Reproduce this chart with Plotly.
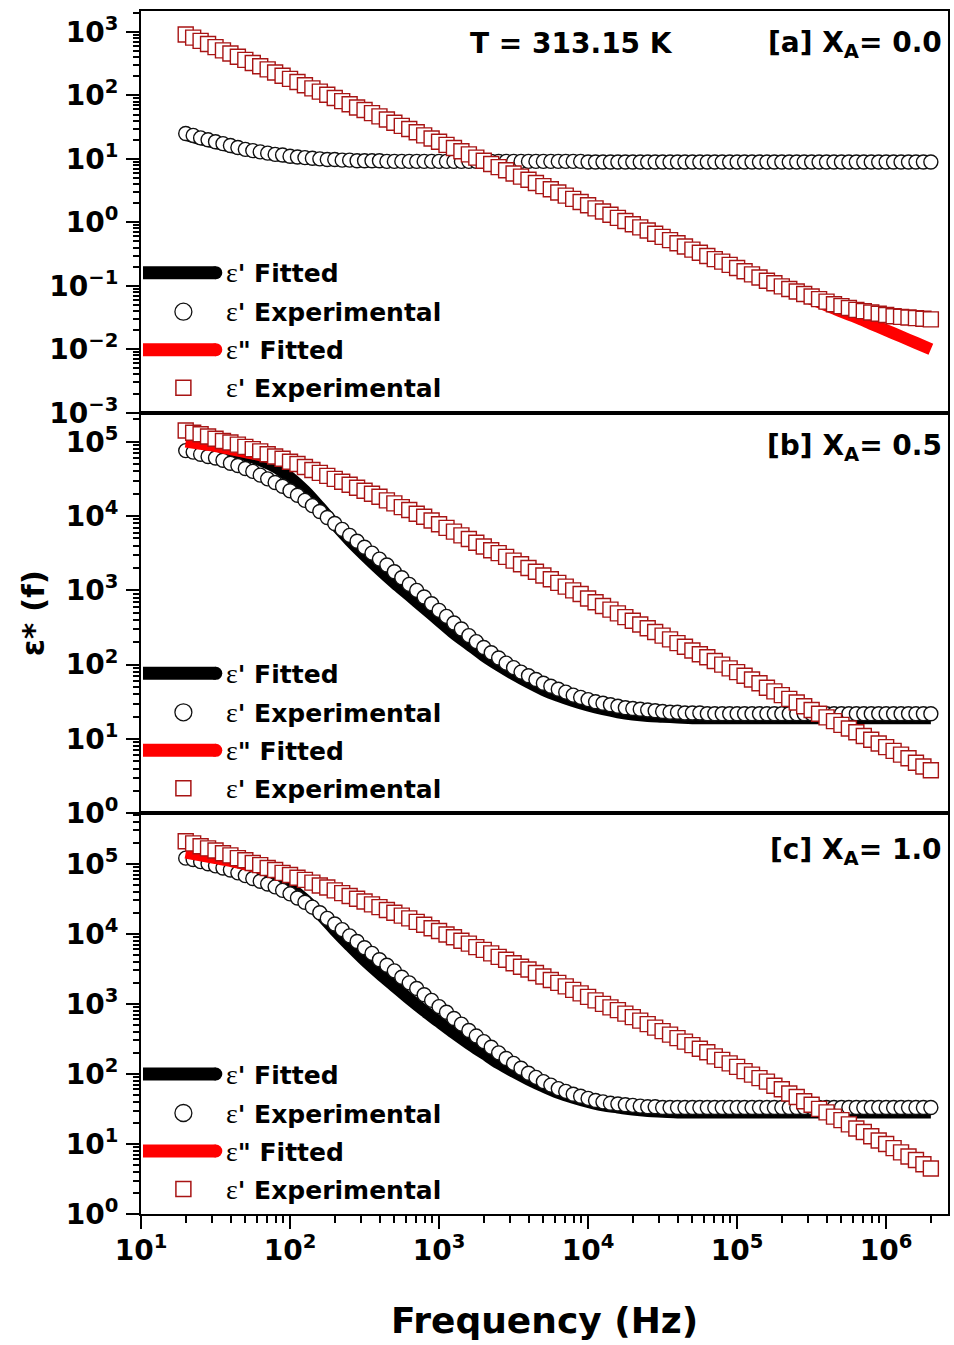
import numpy as np
import plotly.graph_objects as go

# ---------------------------------------------------------------
# Frequency grids (log10 of frequency in Hz)
# ---------------------------------------------------------------
log_f_exp = [
    1.30, 1.35, 1.40, 1.45, 1.50, 1.55, 1.60, 1.65, 1.70, 1.75,
    1.80, 1.85, 1.90, 1.95, 2.00, 2.05, 2.10, 2.15, 2.20, 2.25,
    2.30, 2.35, 2.40, 2.45, 2.50, 2.55, 2.60, 2.65, 2.70, 2.75,
    2.80, 2.85, 2.90, 2.95, 3.00, 3.05, 3.10, 3.15, 3.20, 3.25,
    3.30, 3.35, 3.40, 3.45, 3.50, 3.55, 3.60, 3.65, 3.70, 3.75,
    3.80, 3.85, 3.90, 3.95, 4.00, 4.05, 4.10, 4.15, 4.20, 4.25,
    4.30, 4.35, 4.40, 4.45, 4.50, 4.55, 4.60, 4.65, 4.70, 4.75,
    4.80, 4.85, 4.90, 4.95, 5.00, 5.05, 5.10, 5.15, 5.20, 5.25,
    5.30, 5.35, 5.40, 5.45, 5.50, 5.55, 5.60, 5.65, 5.70, 5.75,
    5.80, 5.85, 5.90, 5.95, 6.00, 6.05, 6.10, 6.15, 6.20, 6.25,
    6.30,
]
log_f_fit = [
    1.3, 1.4, 1.5, 1.6, 1.7, 1.8, 1.9, 2.0, 2.1, 2.2,
    2.3, 2.4, 2.5, 2.6, 2.7, 2.8, 2.9, 3.0, 3.1, 3.2,
    3.3, 3.4, 3.5, 3.6, 3.7, 3.8, 3.9, 4.0, 4.1, 4.2,
    4.3, 4.4, 4.5, 4.6, 4.7, 4.8, 4.9, 5.0, 5.1, 5.2,
    5.3, 5.4, 5.5, 5.6, 5.7, 5.8, 5.9, 6.0, 6.1, 6.2,
    6.3,
]

# ---------------------------------------------------------------
# Panel [a]  X_A = 0.0   (values stored as log10 of epsilon)
# ---------------------------------------------------------------
log_eps1_exp_a = [
    1.40, 1.37, 1.33, 1.30, 1.27, 1.24, 1.21, 1.18, 1.15, 1.13,
    1.11, 1.09, 1.07, 1.06, 1.04, 1.03, 1.02, 1.01, 1.00, 0.99,
    0.99, 0.98, 0.98, 0.97, 0.97, 0.97, 0.97, 0.96, 0.96, 0.96,
    0.96, 0.96, 0.96, 0.96, 0.96, 0.96, 0.96, 0.96, 0.96, 0.96,
    0.96, 0.96, 0.96, 0.96, 0.96, 0.96, 0.96, 0.96, 0.96, 0.96,
    0.96, 0.96, 0.96, 0.96, 0.95, 0.95, 0.95, 0.95, 0.95, 0.95,
    0.95, 0.95, 0.95, 0.95, 0.95, 0.95, 0.95, 0.95, 0.95, 0.95,
    0.95, 0.95, 0.95, 0.95, 0.95, 0.95, 0.95, 0.95, 0.95, 0.95,
    0.95, 0.95, 0.95, 0.95, 0.95, 0.95, 0.95, 0.95, 0.95, 0.95,
    0.95, 0.95, 0.95, 0.95, 0.95, 0.95, 0.95, 0.95, 0.95, 0.95,
    0.95,
]
log_eps1_fit_a = [
    1.38, 1.31, 1.25, 1.19, 1.14, 1.10, 1.06, 1.03, 1.01, 0.99,
    0.98, 0.97, 0.96, 0.96, 0.96, 0.96, 0.96, 0.96, 0.96, 0.96,
    0.96, 0.96, 0.96, 0.96, 0.96, 0.96, 0.96, 0.96, 0.95, 0.95,
    0.95, 0.95, 0.95, 0.95, 0.95, 0.95, 0.95, 0.95, 0.95, 0.95,
    0.95, 0.95, 0.95, 0.95, 0.95, 0.95, 0.95, 0.95, 0.95, 0.95,
    0.95,
]
log_eps2_exp_a = [
    2.96, 2.91, 2.86, 2.81, 2.76, 2.71, 2.66, 2.61, 2.56, 2.51,
    2.46, 2.41, 2.36, 2.31, 2.26, 2.21, 2.16, 2.11, 2.06, 2.01,
    1.96, 1.91, 1.86, 1.81, 1.77, 1.72, 1.67, 1.62, 1.57, 1.52,
    1.47, 1.42, 1.37, 1.32, 1.27, 1.22, 1.17, 1.12, 1.07, 1.02,
    0.97, 0.92, 0.87, 0.82, 0.77, 0.72, 0.67, 0.62, 0.57, 0.52,
    0.47, 0.42, 0.37, 0.32, 0.27, 0.22, 0.17, 0.12, 0.07, 0.02,
    -0.03, -0.08, -0.13, -0.18, -0.23, -0.28, -0.33, -0.38, -0.43, -0.48,
    -0.53, -0.58, -0.62, -0.67, -0.72, -0.77, -0.82, -0.87, -0.92, -0.96,
    -1.01, -1.05, -1.09, -1.13, -1.17, -1.21, -1.25, -1.29, -1.32, -1.35,
    -1.38, -1.40, -1.42, -1.44, -1.46, -1.48, -1.49, -1.50, -1.51, -1.52,
    -1.53,
]
log_eps2_fit_a = [
    2.95, 2.85, 2.75, 2.65, 2.55, 2.46, 2.36, 2.26, 2.16, 2.06,
    1.96, 1.86, 1.76, 1.66, 1.56, 1.47, 1.37, 1.27, 1.17, 1.07,
    0.97, 0.87, 0.77, 0.67, 0.57, 0.48, 0.38, 0.28, 0.18, 0.08,
    -0.02, -0.12, -0.22, -0.32, -0.42, -0.51, -0.61, -0.71, -0.81, -0.91,
    -1.01, -1.11, -1.21, -1.31, -1.41, -1.50, -1.60, -1.70, -1.80, -1.90,
    -2.00,
]

# ---------------------------------------------------------------
# Panel [b]  X_A = 0.5
# ---------------------------------------------------------------
log_eps1_exp_b = [
    4.88, 4.86, 4.83, 4.80, 4.78, 4.75, 4.71, 4.68, 4.64, 4.60,
    4.55, 4.50, 4.45, 4.40, 4.34, 4.28, 4.21, 4.14, 4.06, 3.98,
    3.90, 3.82, 3.74, 3.66, 3.58, 3.50, 3.42, 3.34, 3.25, 3.17,
    3.08, 3.00, 2.91, 2.82, 2.73, 2.65, 2.56, 2.48, 2.39, 2.31,
    2.23, 2.16, 2.09, 2.02, 1.96, 1.90, 1.85, 1.80, 1.75, 1.71,
    1.67, 1.63, 1.59, 1.56, 1.53, 1.50, 1.48, 1.46, 1.44, 1.42,
    1.41, 1.40, 1.39, 1.38, 1.37, 1.36, 1.36, 1.35, 1.35, 1.35,
    1.34, 1.34, 1.34, 1.34, 1.34, 1.34, 1.34, 1.34, 1.34, 1.34,
    1.34, 1.34, 1.34, 1.34, 1.34, 1.34, 1.34, 1.34, 1.34, 1.34,
    1.34, 1.34, 1.34, 1.34, 1.34, 1.34, 1.34, 1.34, 1.34, 1.34,
    1.34,
]
log_eps1_fit_b = [
    4.96, 4.94, 4.91, 4.87, 4.82, 4.75, 4.66, 4.52, 4.34, 4.12,
    3.89, 3.67, 3.47, 3.28, 3.10, 2.93, 2.76, 2.59, 2.42, 2.27,
    2.12, 1.99, 1.87, 1.76, 1.66, 1.58, 1.51, 1.45, 1.40, 1.36,
    1.33, 1.31, 1.30, 1.29, 1.28, 1.28, 1.28, 1.28, 1.28, 1.28,
    1.28, 1.28, 1.28, 1.28, 1.28, 1.28, 1.28, 1.28, 1.28, 1.28,
    1.28,
]
log_eps2_exp_b = [
    5.15, 5.12, 5.10, 5.07, 5.04, 5.01, 4.99, 4.96, 4.93, 4.90,
    4.87, 4.83, 4.80, 4.77, 4.73, 4.70, 4.66, 4.62, 4.58, 4.54,
    4.50, 4.46, 4.42, 4.38, 4.34, 4.30, 4.26, 4.21, 4.17, 4.12,
    4.08, 4.03, 3.99, 3.94, 3.89, 3.84, 3.79, 3.74, 3.69, 3.64,
    3.59, 3.54, 3.50, 3.45, 3.40, 3.35, 3.30, 3.25, 3.20, 3.15,
    3.10, 3.05, 3.00, 2.95, 2.89, 2.84, 2.79, 2.74, 2.69, 2.64,
    2.59, 2.54, 2.49, 2.44, 2.39, 2.34, 2.29, 2.24, 2.19, 2.14,
    2.10, 2.05, 2.00, 1.95, 1.90, 1.85, 1.80, 1.75, 1.69, 1.64,
    1.59, 1.54, 1.49, 1.44, 1.39, 1.34, 1.29, 1.24, 1.19, 1.14,
    1.09, 1.04, 0.99, 0.94, 0.89, 0.84, 0.79, 0.74, 0.68, 0.63,
    0.58,
]
log_eps2_fit_b = [
    5.00, 4.97, 4.94, 4.90, 4.86, 4.82, 4.77, 4.71, 4.65, 4.58,
    4.50, 4.42, 4.34, 4.26, 4.17, 4.08, 3.99, 3.89, 3.79, 3.69,
    3.59, 3.50, 3.40, 3.30, 3.20, 3.10, 3.00, 2.90, 2.80, 2.70,
    2.60, 2.50, 2.40, 2.30, 2.20, 2.10, 2.00, 1.90, 1.80, 1.70,
    1.60, 1.50, 1.40, 1.30, 1.20, 1.10, 1.00, 0.90, 0.80, 0.70,
    0.60,
]

# ---------------------------------------------------------------
# Panel [c]  X_A = 1.0
# ---------------------------------------------------------------
log_eps1_exp_c = [
    5.08, 5.06, 5.03, 5.00, 4.97, 4.94, 4.91, 4.87, 4.83, 4.79,
    4.75, 4.71, 4.67, 4.62, 4.57, 4.51, 4.45, 4.38, 4.30, 4.22,
    4.14, 4.06, 3.97, 3.89, 3.80, 3.72, 3.63, 3.55, 3.47, 3.38,
    3.30, 3.22, 3.13, 3.05, 2.96, 2.88, 2.79, 2.71, 2.62, 2.54,
    2.46, 2.38, 2.30, 2.22, 2.15, 2.08, 2.01, 1.95, 1.89, 1.84,
    1.79, 1.75, 1.71, 1.68, 1.65, 1.62, 1.60, 1.58, 1.57, 1.56,
    1.55, 1.54, 1.53, 1.53, 1.52, 1.52, 1.52, 1.52, 1.52, 1.52,
    1.52, 1.52, 1.52, 1.52, 1.52, 1.52, 1.52, 1.52, 1.52, 1.52,
    1.52, 1.52, 1.52, 1.52, 1.52, 1.52, 1.52, 1.52, 1.52, 1.52,
    1.52, 1.52, 1.52, 1.52, 1.52, 1.52, 1.52, 1.52, 1.52, 1.52,
    1.52,
]
log_eps1_fit_c = [
    5.12, 5.09, 5.06, 5.02, 4.97, 4.90, 4.80, 4.66, 4.49, 4.28,
    4.05, 3.83, 3.62, 3.43, 3.25, 3.07, 2.90, 2.74, 2.58, 2.43,
    2.29, 2.15, 2.03, 1.92, 1.82, 1.73, 1.66, 1.60, 1.55, 1.52,
    1.49, 1.47, 1.46, 1.45, 1.45, 1.45, 1.45, 1.45, 1.45, 1.45,
    1.45, 1.45, 1.45, 1.45, 1.45, 1.45, 1.45, 1.45, 1.45, 1.45,
    1.45,
]
log_eps2_exp_c = [
    5.32, 5.29, 5.25, 5.22, 5.19, 5.15, 5.12, 5.08, 5.05, 5.01,
    4.98, 4.94, 4.91, 4.87, 4.84, 4.80, 4.77, 4.73, 4.69, 4.66,
    4.62, 4.58, 4.54, 4.50, 4.46, 4.42, 4.38, 4.34, 4.30, 4.26,
    4.22, 4.17, 4.13, 4.08, 4.04, 3.99, 3.95, 3.90, 3.86, 3.81,
    3.77, 3.72, 3.67, 3.63, 3.58, 3.53, 3.49, 3.44, 3.39, 3.34,
    3.30, 3.25, 3.20, 3.15, 3.10, 3.05, 3.00, 2.95, 2.91, 2.86,
    2.81, 2.76, 2.71, 2.66, 2.61, 2.56, 2.51, 2.46, 2.41, 2.36,
    2.31, 2.25, 2.20, 2.15, 2.10, 2.04, 1.99, 1.94, 1.89, 1.83,
    1.78, 1.72, 1.67, 1.61, 1.56, 1.50, 1.45, 1.39, 1.34, 1.28,
    1.22, 1.17, 1.11, 1.05, 1.00, 0.94, 0.88, 0.82, 0.77, 0.71,
    0.65,
]
log_eps2_fit_c = [
    5.16, 5.12, 5.08, 5.04, 4.99, 4.94, 4.89, 4.83, 4.76, 4.69,
    4.62, 4.54, 4.46, 4.38, 4.30, 4.22, 4.13, 4.04, 3.95, 3.86,
    3.77, 3.67, 3.58, 3.49, 3.39, 3.30, 3.20, 3.10, 3.00, 2.91,
    2.81, 2.71, 2.61, 2.51, 2.41, 2.31, 2.20, 2.10, 1.99, 1.89,
    1.78, 1.67, 1.56, 1.45, 1.34, 1.22, 1.11, 1.00, 0.88, 0.77,
    0.65,
]

# ---------------------------------------------------------------
# Text
# ---------------------------------------------------------------
panel_labels = ["[a] X<sub>A</sub>= 0.0", "[b] X<sub>A</sub>= 0.5", "[c] X<sub>A</sub>= 1.0"]
temperature_label = "T = 313.15 K"
EPS = ("<span style=\"font-family:'Liberation Serif';font-weight:normal;"
       "font-size:28px\">\u03b5</span>")
legend_labels = [EPS + "' Fitted", EPS + "' Experimental", EPS + '" Fitted', EPS + "' Experimental"]
x_title = "Frequency (Hz)"
y_title = "\u03b5* (f)"

# y-axis decades shown on each panel (log10 limits)
y_ranges = [(-3, 3.33), (0, 5.39), (0, 5.72)]
y_decades = [range(-3, 4), range(0, 6), range(0, 6)]
x_decades = range(1, 7)

# ---------------------------------------------------------------
# Geometry (pixels)
# ---------------------------------------------------------------
W, H = 954, 1345
ML, MR, MT, MB = 141, 4, 11, 131
PW, PH = W - ML - MR, H - MT - MB
panel_px = [(11, 412.7), (412.7, 813.3), (813.3, 1214)]


def px_x(px):
    return (px - ML) / PW


def px_y(py):
    return (H - MB - py) / PH


FONT = "DejaVu Sans"
BLACK = "#000000"
RED = "#ff0000"
SQ_EDGE = "#a81414"
CIRC_EDGE = "#111111"


def sup(p):
    return "10<sup>" + ("\u2212" if p < 0 else "") + str(abs(p)) + "</sup>"


def minor_vals(lo, hi):
    vals = []
    for d in range(lo - 1, hi + 1):
        for m in range(2, 10):
            vals.append(m * 10.0 ** d)
    return vals


series = [
    (log_eps1_fit_a, log_eps1_exp_a, log_eps2_fit_a, log_eps2_exp_a),
    (log_eps1_fit_b, log_eps1_exp_b, log_eps2_fit_b, log_eps2_exp_b),
    (log_eps1_fit_c, log_eps1_exp_c, log_eps2_fit_c, log_eps2_exp_c),
]

f_exp = 10 ** np.array(log_f_exp)
f_fit = 10 ** np.array(log_f_fit)

fig = go.Figure()
for i, (e1f, e1x, e2f, e2x) in enumerate(series):
    sfx = "" if i == 0 else str(i + 1)
    xa, ya = "x" + sfx, "y" + sfx
    fig.add_trace(go.Scatter(x=f_fit, y=10 ** np.array(e1f), mode="lines", xaxis=xa, yaxis=ya,
                             line=dict(color=BLACK, width=12, shape="spline"), showlegend=False))
    fig.add_trace(go.Scatter(x=f_exp, y=10 ** np.array(e1x), mode="markers", xaxis=xa, yaxis=ya,
                             marker=dict(symbol="circle", size=14, color="white",
                                         line=dict(color=CIRC_EDGE, width=1.4)),
                             showlegend=False))
    fig.add_trace(go.Scatter(x=f_fit, y=10 ** np.array(e2f), mode="lines", xaxis=xa, yaxis=ya,
                             line=dict(color=RED, width=12, shape="spline"), showlegend=False))
    fig.add_trace(go.Scatter(x=f_exp, y=10 ** np.array(e2x), mode="markers", xaxis=xa, yaxis=ya,
                             marker=dict(symbol="square", size=15, color="white",
                                         line=dict(color=SQ_EDGE, width=1.4)),
                             showlegend=False))

tickfont = dict(family=FONT, size=28, color=BLACK, weight="bold")
layout = dict(
    width=W, height=H,
    margin=dict(l=ML, r=MR, t=MT, b=MB, pad=0),
    paper_bgcolor="white", plot_bgcolor="white",
    showlegend=False,
)

for i in range(3):
    sfx = "" if i == 0 else str(i + 1)
    top, bot = panel_px[i]
    bottom_panel = i == 2
    xa = dict(
        type="log", range=[1, 6.415], domain=[0, 1], anchor="y" + sfx,
        showline=True, mirror=True, linewidth=2, linecolor=BLACK,
        showgrid=False, zeroline=False,
    )
    if i > 0:
        xa["matches"] = "x"
    if bottom_panel:
        xa.update(
            tickmode="array",
            tickvals=[10.0 ** p for p in x_decades],
            ticktext=[sup(p) for p in x_decades],
            ticks="outside", ticklen=13, tickwidth=2, tickcolor=BLACK,
            tickfont=tickfont, ticklabelstandoff=-3,
            minor=dict(tickmode="array", tickvals=minor_vals(1, 7),
                       ticks="outside", ticklen=7, tickwidth=1.5, tickcolor=BLACK),
        )
    else:
        xa.update(ticks="", showticklabels=False)
    lo, hi = y_ranges[i]
    ya = dict(
        type="log", range=[lo, hi], domain=[px_y(bot), px_y(top)], anchor="x" + sfx,
        showline=True, mirror=True, linewidth=2, linecolor=BLACK,
        showgrid=False, zeroline=False,
        tickmode="array",
        tickvals=[10.0 ** p for p in y_decades[i]],
        ticktext=[sup(p) for p in y_decades[i]],
        ticks="outside", ticklen=13, tickwidth=2, tickcolor=BLACK,
        tickfont=tickfont, ticklabelstandoff=2,
        minor=dict(tickmode="array", tickvals=minor_vals(int(np.floor(lo)), int(np.ceil(hi))),
                   ticks="outside", ticklen=6, tickwidth=1.5, tickcolor=BLACK),
    )
    layout["xaxis" + sfx] = xa
    layout["yaxis" + sfx] = ya

fig.update_layout(**layout)

# ---------------------------------------------------------------
# Annotations and hand-drawn legends
# ---------------------------------------------------------------
annotations = []
shapes = []

annotations.append(dict(text=temperature_label, xref="paper", yref="paper",
                        x=px_x(573), y=px_y(44), xanchor="center", yanchor="middle",
                        showarrow=False, font=dict(family=FONT, size=28, color=BLACK, weight="bold")))

label_y = [45, 447, 851]
for i, txt in enumerate(panel_labels):
    annotations.append(dict(text=txt, xref="paper", yref="paper",
                            x=px_x(946), y=px_y(label_y[i]), xanchor="right", yanchor="middle",
                            showarrow=False, font=dict(family=FONT, size=28, color=BLACK, weight="bold")))

row_offsets = [140, 101, 63, 25]
for i in range(3):
    bot = panel_px[i][1]
    rows = [bot - o for o in row_offsets]
    for r, (ry, lab) in enumerate(zip(rows, legend_labels)):
        if r in (0, 2):
            col = BLACK if r == 0 else RED
            shapes.append(dict(type="line", xref="paper", yref="paper",
                               x0=px_x(143), x1=px_x(216), y0=px_y(ry), y1=px_y(ry),
                               line=dict(color=col, width=13)))
            shapes.append(dict(type="circle", xref="paper", yref="paper",
                               x0=px_x(209.5), x1=px_x(222.5), y0=px_y(ry + 6.5), y1=px_y(ry - 6.5),
                               fillcolor=col, line=dict(width=0)))
        elif r == 1:
            shapes.append(dict(type="circle", xref="paper", yref="paper",
                               x0=px_x(175), x1=px_x(192), y0=px_y(ry + 8.5), y1=px_y(ry - 8.5),
                               fillcolor="white", line=dict(color=CIRC_EDGE, width=1.3)))
        else:
            shapes.append(dict(type="rect", xref="paper", yref="paper",
                               x0=px_x(176), x1=px_x(191), y0=px_y(ry + 7.5), y1=px_y(ry - 7.5),
                               fillcolor="white", line=dict(color=SQ_EDGE, width=1.5)))
        annotations.append(dict(text=lab, xref="paper", yref="paper",
                                x=px_x(224), y=px_y(ry), xanchor="left", yanchor="middle",
                                showarrow=False,
                                font=dict(family=FONT, size=25, color=BLACK, weight="bold")))

annotations.append(dict(text=y_title, xref="paper", yref="paper", textangle=-90,
                        x=px_x(33), y=px_y(613), xanchor="center", yanchor="middle",
                        showarrow=False, font=dict(family=FONT, size=31, color=BLACK, weight="bold")))
annotations.append(dict(text=x_title, xref="paper", yref="paper",
                        x=px_x(545), y=px_y(1320), xanchor="center", yanchor="middle",
                        showarrow=False, font=dict(family=FONT, size=36, color=BLACK, weight="bold")))

fig.update_layout(annotations=annotations, shapes=shapes)
fig.write_html("out.html", config={"displayModeBar": False})
